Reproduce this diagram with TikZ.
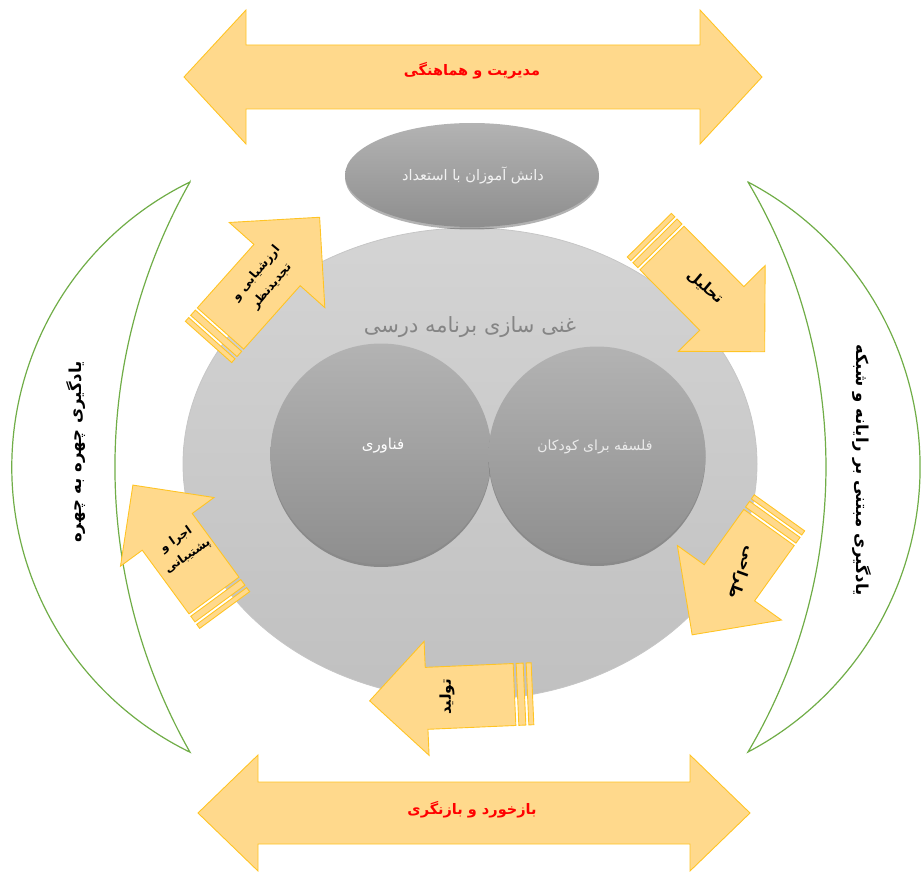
\documentclass[tikz,border=0pt]{standalone}
\usepackage{fontspec}
\usepackage{tikz}
\usetikzlibrary{shapes.geometric, shadows}
\newfontfamily\fafont[Script=Arabic]{DejaVu Sans}
\TeXXeTstate=1
\newcommand{\fa}[1]{\beginR #1\endR}

\definecolor{arrowfill}{HTML}{FFD98C}
\definecolor{arrowline}{HTML}{FFC424}
\definecolor{moonline}{HTML}{70AD47}
\definecolor{discTop}{HTML}{D4D4D4}
\definecolor{discBot}{HTML}{C0C0C0}
\definecolor{ballTop}{HTML}{B3B3B3}
\definecolor{ballBot}{HTML}{8E8E8E}
\definecolor{titlegrey}{HTML}{858585}

\tikzset{
  blockarrow/.style={fill=arrowfill, draw=arrowline, line width=0.9pt, line join=miter},
  moon/.style={fill=white, draw=moonline, line width=1.2pt},
  ballnode/.style={inner sep=0pt, top color=ballTop, bottom color=ballBot,
    drop shadow={shadow xshift=0pt, shadow yshift=-2.5pt, opacity=0.3, fill=black}},
  steptext/.style={font=\fafont\bfseries\fontsize{15}{18}\selectfont, align=center, text=black},
  pairtext/.style={font=\fafont\bfseries\fontsize{12}{20}\selectfont, align=center, text=black},
  bandtext/.style={font=\fafont\bfseries\fontsize{14.5}{18}\selectfont, text=red},
  mooncaption/.style={font=\fafont\bfseries\fontsize{16.5}{20}\selectfont, text=black},
  pics/striparrow/.style 2 args={code={
    \path[blockarrow] (0,-31) -- (#1,-31) -- (#1,-#2) -- ++(#2,#2) -- (#1,#2) -- (#1,31) -- (0,31) -- cycle;
    \path[blockarrow] (-3,-31) rectangle (-10,31);
    \path[blockarrow] (-13,-31) rectangle (-18,31);
  }},
}

\begin{document}
\begin{tikzpicture}[x=1pt, y=-1pt]
    \useasboundingbox (0,0) rectangle (922,872);

    % bands top and bottom
    \draw[blockarrow] (184,77) -- (246,10) -- (246,45) -- (700,45) -- (700,10) -- (762,77)
        -- (700,144) -- (700,109) -- (246,109) -- (246,144) -- cycle;
    \draw[blockarrow] (198,813) -- (258,755) -- (258,782) -- (690,782) -- (690,755) -- (750,813)
        -- (690,871) -- (690,844) -- (258,844) -- (258,871) -- cycle;

    % crescents
    \draw[moon] (190,182) arc[start angle=244, end angle=116, radius=317.2]
        arc[start angle=150.5, end angle=209.5, radius=579] -- cycle;
    \draw[moon] (748,182) arc[start angle=-62.23, end angle=62.23, radius=322.1]
        arc[start angle=30.61, end angle=-30.61, radius=559.7] -- cycle;

    % disc and balls
    \node (enrich) at (470,464) [ellipse, inner sep=0pt, minimum width=574pt, minimum height=472pt,
        top color=discTop, bottom color=discBot, draw=gray!45, line width=0.8pt] {};
    \node (students) at (472,175) [ellipse, ballnode, minimum width=254pt, minimum height=104pt] {};
    \node (tech) at (381,454) [circle, ballnode, minimum size=221pt] {};
    \node (p4c) at (597,455) [circle, ballnode, minimum size=217pt] {};

    % cycle arrows
    \pic[rotate=48.3] at (220.5,328.5) {striparrow={85}{64}};
    \pic[rotate=-45.3] at (662,248) {striparrow={85}{61}};
    \pic[rotate=-125.6] at (769,527.5) {striparrow={68}{64}};
    \pic[rotate=-177.5] at (514.5,694.5) {striparrow={88}{57}};
    \pic[rotate=126.3] at (214,595.5) {striparrow={79}{58}};

    % texts
    \node (managetext) at (472,71) [bandtext] {\fa{مدیریت و هماهنگی}};
    \node (feedbacktext) at (472,810) [bandtext] {\fa{بازخورد و بازنگری}};
    \node (facetext) at (76,452) [mooncaption, rotate=90] {\fa{یادگیری چهره به چهره}};
    \node (webtext) at (862,470) [mooncaption, rotate=-90] {\fa{یادگیری مبتنی بر رایانه و شبکه}};
    \node (enrichtitle) at (470,327) [font=\fafont\fontsize{21}{24}\selectfont, text=titlegrey] {\fa{غنی سازی برنامه درسی}};
    \node (studentstext) at (473,175) [font=\fafont\fontsize{14.5}{17}\selectfont, text=white!95!black] {\fa{دانش آموزان با استعداد}};
    \node (techtext) at (383,446) [font=\fafont\fontsize{15}{18}\selectfont, text=white] {\fa{فناوری}};
    \node (p4ctext) at (595,447) [font=\fafont\fontsize{14}{17}\selectfont, text=white!92!black] {\fa{فلسفه برای کودکان}};
    \node (evaltext) at (264,280) [pairtext, rotate=50] {\fa{ارزشیابی و}\\\fa{تجدیدنظر}};
    \node (analysistext) at (705,287) [steptext, rotate=-40] {\fa{تحلیل}};
    \node (designtext) at (742,572) [steptext, rotate=-110] {\fa{طراحی}};
    \node (producetext) at (447,697) [steptext, rotate=90] {\fa{تولید}};
    \node (runtext) at (182,548) [pairtext, rotate=35] {\fa{اجرا و}\\\fa{پشتیبانی}};
\end{tikzpicture}
\end{document}
